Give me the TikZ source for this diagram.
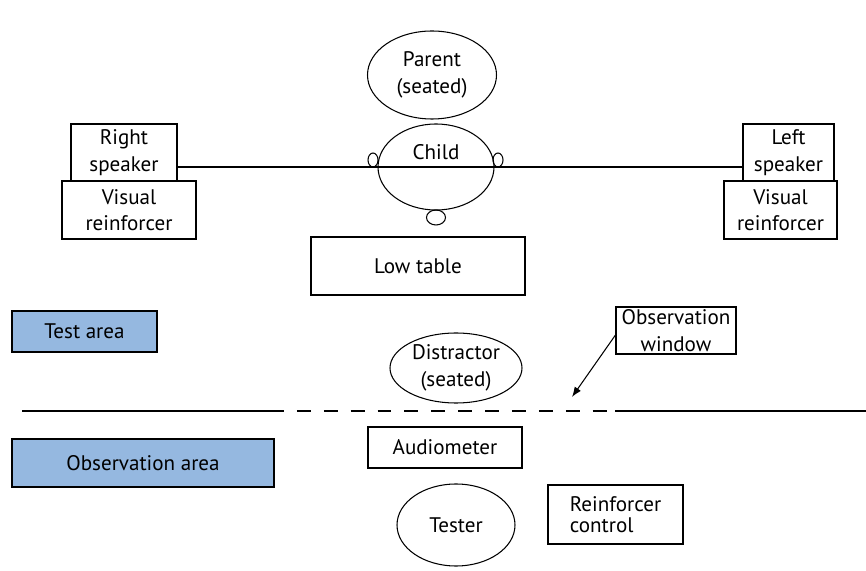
\documentclass[tikz,border=0pt]{standalone}
\usepackage{fontspec}
\setmainfont{PT Sans}
\usepackage{tikz}
\usetikzlibrary{arrows.meta,shapes.geometric}
\usepackage{xcolor}
\definecolor{AreaBlue}{HTML}{95B8E0}

\begin{document}
\begin{tikzpicture}[>=Latex,line width=0.6pt,
  font=\fontsize{12}{15}\selectfont,
  box/.style={draw,rectangle,inner sep=0pt,align=center},
  oval/.style={draw,ellipse,inner sep=0pt,align=center},
  areabox/.style={draw,rectangle,fill=AreaBlue,inner sep=0pt,align=center}]
\useasboundingbox (0,0) rectangle (17.32,11.4);
% room layout
\node[oval,minimum width=2.58cm,minimum height=1.76cm] (parent) at (8.64,9.90) {Parent\\(seated)};
\node[oval,minimum width=2.32cm,minimum height=1.72cm] (child) at (8.72,8.06) {};
\node[oval,minimum width=0.2cm,minimum height=0.28cm] (lear) at (7.46,8.20) {};
\node[oval,minimum width=0.2cm,minimum height=0.28cm] (rear) at (9.96,8.20) {};
\node[oval,minimum width=0.38cm,minimum height=0.30cm] (nose) at (8.72,7.05) {};
\node[box,minimum width=2.12cm,minimum height=1.14cm] (rspk) at (2.48,8.35) {Right\\speaker};
\node[box,minimum width=2.68cm,minimum height=1.16cm] (rvis) at (2.58,7.20) {Visual\\reinforcer};
\node[box,minimum width=1.82cm,minimum height=1.14cm] (lspk) at (15.77,8.35) {Left\\speaker};
\node[box,minimum width=2.26cm,minimum height=1.16cm] (lvis) at (15.61,7.20) {Visual\\reinforcer};
\draw (rspk.east |- child) -- (lspk.west |- child);
\node at (8.72,8.36) (childlbl) {Child};
\node[box,minimum width=4.28cm,minimum height=1.16cm] (table) at (8.36,6.08) {Low table};
\node[areabox,minimum width=2.90cm,minimum height=0.82cm] (testarea) at (1.69,4.77) {Test area};
\node[box,minimum width=2.40cm,minimum height=0.94cm] (owin) at (13.52,4.79) {Observation\\window};
\node[oval,minimum width=2.64cm,minimum height=1.40cm] (distr) at (9.12,4.04) {Distractor\\(seated)};
\coordinate (wingap) at (11.44,3.46);
\draw[->] (owin.west |- 12.34,4.70) -- (wingap);
% wall with window
\coordinate (wl) at (0.44,3.18);
\coordinate (ws) at (5.40,3.18);
\coordinate (we) at (12.30,3.18);
\coordinate (wr) at (17.32,3.18);
\draw (wl) -- (ws);
\draw[dash pattern=on 7.9pt off 7.4pt] (ws) -- (we);
\draw (we) -- (wr);
% observation side
\node[box,minimum width=3.08cm,minimum height=0.82cm] (audio) at (8.90,2.45) {Audiometer};
\node[areabox,minimum width=5.24cm,minimum height=0.96cm] (obsarea) at (2.86,2.14) {Observation area};
\node[oval,minimum width=2.36cm,minimum height=1.64cm] (tester) at (9.12,0.90) {Tester};
\node[box,minimum width=2.70cm,minimum height=1.18cm,align=left,
  font=\fontsize{12}{12}\selectfont] (rctrl) at (12.31,1.11) {Reinforcer\\control};
\end{tikzpicture}
\end{document}
